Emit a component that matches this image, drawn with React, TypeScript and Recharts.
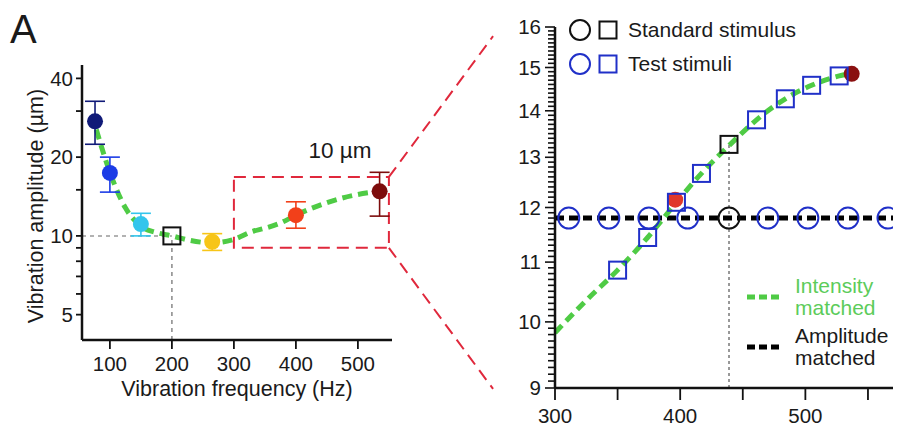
import * as React from 'react'
import { ComposedChart, Line, Scatter, XAxis, YAxis, ErrorBar, ReferenceLine, ReferenceArea, ReferenceDot, Legend } from 'recharts'

// LEFT PANEL DATA (frequency in Hz, amplitude in µm)

const LEFT_X_TICKS = [100, 200, 300, 400, 500]
const LEFT_Y_TICKS = [5, 6, 7, 8, 9, 10, 15, 20, 30, 40]
const LEFT_Y_LABELS = [5, 10, 20, 40]

const POINT_FREQ = [76, 100, 150, 265, 400, 535]
const POINT_AMP = [27.4, 17.4, 11.1, 9.5, 12.0, 14.8]
const POINT_ERR_LOW = [5.0, 2.7, 1.1, 0.7, 1.3, 2.9]
const POINT_ERR_HIGH = [5.3, 2.6, 1.1, 0.7, 1.5, 2.7]

const STANDARD_LEFT = { freq: 200, amp: 10 }

const LEFT_FIT_FREQ = [78, 100, 125, 150, 175, 200, 230, 265, 300, 330, 350, 375, 400, 450, 500, 535]
const LEFT_FIT_AMP = [25.5, 17.5, 12.8, 10.9, 10.3, 10.0, 9.6, 9.4, 9.7, 10.4, 10.7, 11.2, 12.0, 13.4, 14.4, 14.8]

const ZOOM_FREQ = [300, 550]
const ZOOM_AMP = [9.0, 16.8]

// RIGHT PANEL DATA

const RIGHT_X_TICKS = [300, 350, 400, 450, 500, 550]
const RIGHT_X_LABELS = [300, 400, 500]
const RIGHT_Y_MAJOR = [9, 10, 11, 12, 13, 14, 15, 16]

const STANDARD_AMP = 11.8
const STANDARD_FREQ = 439
const STANDARD_SQUARE_AMP = 13.27

const TEST_CIRCLE_FREQ = [311, 343, 375, 406, 470, 502, 534, 566]
const TEST_SQUARE_FREQ = [350, 374, 397, 417, 461, 484, 505, 527]
const TEST_SQUARE_AMP = [10.86, 11.44, 12.1, 12.67, 13.8, 14.27, 14.58, 14.8]

const RIGHT_FIT_FREQ = [300, 325, 350, 374, 397, 417, 440, 461, 484, 505, 527, 535]
const RIGHT_FIT_AMP = [9.83, 10.35, 10.86, 11.44, 12.1, 12.67, 13.27, 13.8, 14.27, 14.58, 14.8, 14.85]

const MATCH_DOT_FREQ = [396, 537]
const MATCH_DOT_AMP = [12.15, 14.85]

const STIMULUS_LABELS = ['Standard stimulus', 'Test stimuli']
const LINE_LABELS = [['Intensity', 'matched'], ['Amplitude', 'matched']]

// STYLES

const FONT = '"Liberation Sans", Arial, Helvetica, sans-serif'
const INK = '#1a1a1a'
const GREEN = '#4fcb45'
const GREEN_TEXT = '#5ccc5a'
const RED = '#e0283c'
const BLUE = '#2030c8'
const POINT_COLORS = ['#101a78', '#1c3ce6', '#33c5ec', '#f7c518', '#f2401a', '#7d0c0c']
const MATCH_DOT_COLORS = ['#e0382a', '#8a1010']

// derived tables

const leftFit = LEFT_FIT_FREQ.map((f, i) => ({ freq: f, amp: LEFT_FIT_AMP[i] }))
const rightFit = RIGHT_FIT_FREQ.map((f, i) => ({ freq: f, amp: RIGHT_FIT_AMP[i] }))
const testCircles = TEST_CIRCLE_FREQ.map(f => ({ freq: f, amp: STANDARD_AMP }))
const testSquares = TEST_SQUARE_FREQ.map((f, i) => ({ freq: f, amp: TEST_SQUARE_AMP[i] }))

const RIGHT_Y_TICKS: number[] = []
for (let i = 0; i < RIGHT_Y_MAJOR.length - 1; i++) {
    for (let k = 0; k < 10; k++) RIGHT_Y_TICKS.push(Math.round((RIGHT_Y_MAJOR[i] + k / 10) * 10) / 10)
}
RIGHT_Y_TICKS.push(RIGHT_Y_MAJOR[RIGHT_Y_MAJOR.length - 1])

// SHAPES

const dot = (r: number, fill: string) => (p: any) => <circle cx={p.cx} cy={p.cy} r={r} fill={fill} />
const ring = (r: number, stroke: string) => (p: any) => <circle cx={p.cx} cy={p.cy} r={r} fill="none" stroke={stroke} strokeWidth={2} />
const square = (s: number, stroke: string) => (p: any) => (
    <rect x={p.cx - s / 2} y={p.cy - s / 2} width={s} height={s} fill="none" stroke={stroke} strokeWidth={2} />
)

const RightYTick = (props: any) => {
    const { x, y, payload } = props
    const v = payload.value
    const major = RIGHT_Y_MAJOR.includes(v)
    const axisX = x + 14
    return (
        <g>
            <line x1={axisX} x2={axisX - (major ? 10 : 7)} y1={y} y2={y} stroke="#111" strokeWidth={1.6} />
            {major && <text x={x} y={y} dy="0.35em" textAnchor="end" fontSize={20.5} fill={INK}>{v}</text>}
        </g>
    )
}

const RightLegend = () => (
    <div style={{ position: 'relative', width: 411, height: 428, fontSize: 21, color: INK, fontFamily: FONT }}>
        {STIMULUS_LABELS.map((label, i) => {
            const c = i === 0 ? '#111' : BLUE
            return (
                <div key={label} style={{ position: 'absolute', left: 74, top: [19, 53][i], height: 22, display: 'flex', alignItems: 'center', whiteSpace: 'nowrap' }}>
                    <svg width={22} height={22}><circle cx={11} cy={11} r={10} fill="none" stroke={c} strokeWidth={2} /></svg>
                    <svg width={20} height={20} style={{ marginLeft: 7 }}><rect x={1.5} y={1.5} width={17} height={17} fill="none" stroke={c} strokeWidth={2} /></svg>
                    <span style={{ marginLeft: 10 }}>{label}</span>
                </div>
            )
        })}
        {LINE_LABELS.map((lines, i) => {
            const c = i === 0 ? GREEN : '#000'
            return (
                <div key={i} style={{ position: 'absolute', left: 252, top: [275, 325][i], display: 'flex', alignItems: 'center' }}>
                    <svg width={33} height={6}><line x1={0} x2={33} y1={3} y2={3} stroke={c} strokeWidth={5} strokeDasharray="8 4" /></svg>
                    <div style={{ marginLeft: 15, lineHeight: '22px', color: i === 0 ? GREEN_TEXT : INK }}>
                        {lines.map(t => <div key={t}>{t}</div>)}
                    </div>
                </div>
            )
        })}
    </div>
)

export default function App() {
    const axisLine = { stroke: '#111', strokeWidth: 2.5 }
    const tickLine = { stroke: '#111', strokeWidth: 1.8 }
    const tickStyle = { fontSize: 20.5, fill: INK }

    return (
        <div style={{ position: 'absolute', left: 0, top: 0, width: 906, height: 428, background: '#fff', fontFamily: FONT, overflow: 'hidden' }}>
            <div style={{ position: 'absolute', left: 10, top: 9, fontSize: 40, lineHeight: '40px', color: INK }}>A</div>

            <div style={{ position: 'absolute', left: 0, top: 0 }}>
                <ComposedChart width={500} height={428} margin={{ top: 65, right: 108, bottom: 0, left: 0 }}>
                    <XAxis dataKey="freq" type="number" domain={[55, 555]} allowDataOverflow ticks={LEFT_X_TICKS} interval={0}
                        axisLine={axisLine} tickLine={tickLine} tickSize={9} tickMargin={7} tick={tickStyle} height={88}
                        label={{ value: 'Vibration frequency (Hz)', position: 'insideBottom', offset: 32, fontSize: 21.5, fill: INK }} />
                    <YAxis dataKey="amp" type="number" scale="log" domain={[4, 45]} allowDataOverflow ticks={LEFT_Y_TICKS} interval={0}
                        tickFormatter={(v: number) => (LEFT_Y_LABELS.includes(v) ? `${v}` : '')}
                        axisLine={axisLine} tickLine={tickLine} tickSize={6} tickMargin={3} tick={tickStyle} width={82}
                        label={{ value: 'Vibration amplitude (µm)', angle: -90, position: 'center', dx: -5.5, dy: 3.5, fontSize: 21.5, fill: INK }} />

                    <ReferenceLine segment={[{ x: 55, y: STANDARD_LEFT.amp }, { x: STANDARD_LEFT.freq, y: STANDARD_LEFT.amp }]} stroke="#999" strokeWidth={1.5} strokeDasharray="4 4" />
                    <ReferenceLine segment={[{ x: STANDARD_LEFT.freq, y: 4 }, { x: STANDARD_LEFT.freq, y: STANDARD_LEFT.amp }]} stroke="#888" strokeWidth={1.5} strokeDasharray="4 4" />

                    <ReferenceArea x1={ZOOM_FREQ[0]} x2={ZOOM_FREQ[1]} y1={ZOOM_AMP[0]} y2={ZOOM_AMP[1]} fill="none" fillOpacity={0} stroke={RED} strokeWidth={2} strokeDasharray="12 7" />
                    <ReferenceLine segment={[{ x: ZOOM_FREQ[1], y: ZOOM_AMP[1] }, { x: 718, y: 58 }]} stroke={RED} strokeWidth={2} strokeDasharray="12 7" ifOverflow="visible" />
                    <ReferenceLine segment={[{ x: ZOOM_FREQ[1], y: ZOOM_AMP[0] }, { x: 718, y: 2.6 }]} stroke={RED} strokeWidth={2} strokeDasharray="12 7" ifOverflow="visible" />

                    <Line data={leftFit} dataKey="amp" type="monotone" stroke={GREEN} strokeWidth={5} strokeDasharray="10 6" dot={false} isAnimationActive={false} />

                    {POINT_FREQ.map((f, i) => (
                        <Scatter key={f} data={[{ freq: f, amp: POINT_AMP[i], err: [POINT_ERR_LOW[i], POINT_ERR_HIGH[i]] }]}
                            fill={POINT_COLORS[i]} shape={dot(8, POINT_COLORS[i])} isAnimationActive={false}>
                            <ErrorBar dataKey="err" direction="y" width={10} stroke={POINT_COLORS[i]} strokeWidth={1.6} isAnimationActive={false} />
                        </Scatter>
                    ))}
                    <Scatter data={[STANDARD_LEFT]} shape={square(17, '#111')} isAnimationActive={false} />

                    <ReferenceDot x={471} y={21.3} r={0} fill="none" stroke="none"
                        label={{ value: '10 µm', position: 'center', fontSize: 22.5, fill: INK }} />
                </ComposedChart>
            </div>

            <div style={{ position: 'absolute', left: 495, top: 0 }}>
                <ComposedChart width={411} height={428} margin={{ top: 27, right: 13, bottom: 0, left: 0 }}>
                    <XAxis dataKey="freq" type="number" domain={[300, 570]} allowDataOverflow ticks={RIGHT_X_TICKS} interval={0}
                        tickFormatter={(v: number) => (RIGHT_X_LABELS.includes(v) ? `${v}` : '')}
                        axisLine={axisLine} tickLine={tickLine} tickSize={12} tickMargin={8} tick={tickStyle} height={40} />
                    <YAxis dataKey="amp" type="number" scale="log" domain={[9, 16]} allowDataOverflow ticks={RIGHT_Y_TICKS} interval={0}
                        axisLine={axisLine} tickLine={false} tickSize={10} tickMargin={4} tick={<RightYTick />} width={60} />

                    <ReferenceLine segment={[{ x: STANDARD_FREQ, y: 9 }, { x: STANDARD_FREQ, y: STANDARD_SQUARE_AMP }]} stroke="#777" strokeWidth={1.5} strokeDasharray="3 3" />
                    <ReferenceLine y={STANDARD_AMP} stroke="#000" strokeWidth={5} strokeDasharray="9 5" />

                    <Line data={rightFit} dataKey="amp" type="monotone" stroke={GREEN} strokeWidth={5} strokeDasharray="10 6" dot={false} isAnimationActive={false} />

                    {MATCH_DOT_FREQ.map((f, i) => (
                        <Scatter key={f} data={[{ freq: f, amp: MATCH_DOT_AMP[i] }]} shape={dot(8, MATCH_DOT_COLORS[i])} isAnimationActive={false} />
                    ))}
                    <Scatter data={testCircles} shape={ring(10.5, BLUE)} isAnimationActive={false} />
                    <Scatter data={[{ freq: STANDARD_FREQ, amp: STANDARD_AMP }]} shape={ring(10.5, '#111')} isAnimationActive={false} />
                    <Scatter data={testSquares} shape={square(17, BLUE)} isAnimationActive={false} />
                    <Scatter data={[{ freq: STANDARD_FREQ, amp: STANDARD_SQUARE_AMP }]} shape={square(17, '#111')} isAnimationActive={false} />

                    <Legend content={<RightLegend />} layout="horizontal" verticalAlign="middle" align="center"
                        wrapperStyle={{ left: 0, top: 0, width: 411, height: 428, pointerEvents: 'none' }} />
                </ComposedChart>
            </div>
        </div>
    )
}
